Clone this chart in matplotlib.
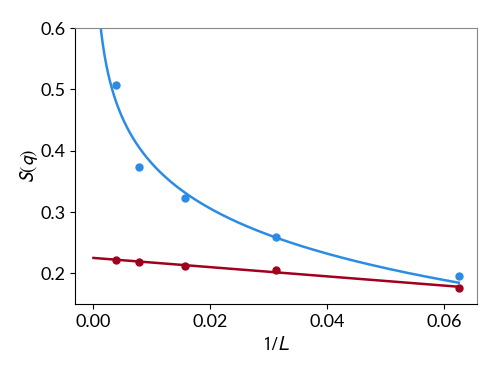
import numpy as np
import matplotlib
matplotlib.use("Agg")
import matplotlib.pyplot as plt

plt.rcParams['font.family'] = ['Lato', 'DejaVu Sans']
plt.rcParams['mathtext.fontset'] = 'stixsans'

L = [16, 32, 64, 128, 256]
inv_L = [1/16, 1/32, 1/64, 1/128, 1/256]
S_blue = [0.196, 0.260, 0.323, 0.373, 0.507]
S_red = [0.177, 0.205, 0.212, 0.219, 0.222]

blue = '#2b8ce6'
red = '#a0001e'

fig = plt.figure(figsize=(4.98, 3.74), dpi=100)
ax = fig.add_axes([0.151, 0.187, 0.807, 0.738])

x = np.array(inv_L)
# logarithmic fit for blue
b, a = np.polyfit(np.log(x), S_blue, 1)
xf = np.linspace(1e-4, x.max(), 600)
ax.plot(xf, a + b*np.log(xf), color=blue, lw=1.8)
# linear fit for red
m, c = np.polyfit(x, S_red, 1)
xr = np.linspace(0, x.max(), 100)
ax.plot(xr, m*xr + c, color=red, lw=1.8)

ax.plot(x, S_blue, 'o', color=blue, ms=5)
ax.plot(x, S_red, 'o', color=red, ms=5)

ax.set_xlim(-0.003125, 0.065625)
ax.set_ylim(0.15, 0.6)
ax.set_xticks([0.0, 0.02, 0.04, 0.06])
ax.set_yticks([0.2, 0.3, 0.4, 0.5, 0.6])
ax.set_xticklabels(['0.00', '0.02', '0.04', '0.06'])
ax.set_yticklabels(['0.2', '0.3', '0.4', '0.5', '0.6'])
ax.tick_params(labelsize=13)
ax.set_xlabel(r'$1/L$', fontsize=14)
ax.set_ylabel(r'$S(q)$', fontsize=14, labelpad=0)
for s in ['top', 'right']:
    ax.spines[s].set_color('#888888')

fig.savefig('out.png', dpi=100)
